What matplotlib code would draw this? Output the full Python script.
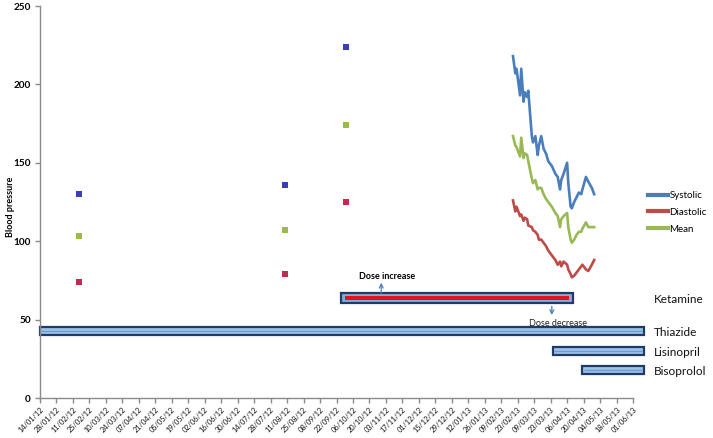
import matplotlib
matplotlib.use("Agg")
import matplotlib.pyplot as plt
import matplotlib.dates as mdates
import matplotlib.transforms as mtransforms
from matplotlib.lines import Line2D
import pandas as pd

plt.rcParams['font.family'] = ['Lato', 'DejaVu Sans']

# ---- data ----
clinic_dates = ['2012-02-16', '2012-08-09', '2012-09-30']
clinic_systolic = [130, 136, 224]
clinic_mean = [103, 107, 174]
clinic_diastolic = [74, 79, 125]

home_dates = ['2013-02-19', '2013-02-21', '2013-02-22', '2013-02-25', '2013-02-26',
              '2013-02-28', '2013-03-01', '2013-03-03', '2013-03-04', '2013-03-07',
              '2013-03-08', '2013-03-10', '2013-03-12', '2013-03-13', '2013-03-15',
              '2013-03-17', '2013-03-19', '2013-03-21', '2013-03-24', '2013-03-27',
              '2013-03-29', '2013-03-31', '2013-04-01', '2013-04-03', '2013-04-06',
              '2013-04-07', '2013-04-09', '2013-04-10', '2013-04-12', '2013-04-14',
              '2013-04-16', '2013-04-18', '2013-04-19', '2013-04-22', '2013-04-24',
              '2013-04-27', '2013-04-29']
systolic = [218, 207, 210, 193, 210, 189, 195, 192, 196, 167, 163, 167, 155, 161, 167,
            159, 156, 151, 148, 143, 141, 133, 139, 143, 150, 137, 122, 121, 125, 128,
            131, 130, 133, 141, 138, 134, 130]
mean = [167, 161, 160, 154, 166, 153, 156, 155, 151, 140, 137, 139, 133, 134, 134,
        130, 127, 125, 122, 118, 116, 109, 114, 116, 118, 109, 101, 99, 101, 104,
        106, 106, 108, 112, 109, 109, 109]
diastolic = [126, 119, 122, 116, 117, 113, 115, 114, 110, 109, 107, 106, 104, 101, 101,
             99, 97, 94, 91, 88, 85, 87, 84, 87, 85, 82, 79, 77, 78, 80,
             82, 84, 85, 82, 81, 85, 88]

drugs = ['Ketamine', 'Thiazide', 'Lisinopril', 'Bisoprolol']
drug_start = ['2012-09-26', '2012-01-14', '2013-03-25', '2013-04-19']
drug_end = ['2013-04-11', '2013-06-10', '2013-06-10', '2013-06-10']
drug_level = [63.6, 42.8, 30.1, 18.1]

tick_start = '2012-01-14'
tick_end = '2013-06-01'
y_ticks = [0, 50, 100, 150, 200, 250]

# ---- figure ----
W, H = 713, 438
fig = plt.figure(figsize=(W / 100, H / 100), dpi=100)
ax = fig.add_axes([40 / W, (H - 398) / H, 593 / W, (398 - 6) / H])

c_sys, c_dia, c_mean = '#4A7EBB', '#BE4B48', '#98B954'

hd = pd.to_datetime(home_dates)
ax.plot(hd, systolic, color=c_sys, lw=1.9, solid_joinstyle='round')
ax.plot(hd, diastolic, color=c_dia, lw=1.9, solid_joinstyle='round')
ax.plot(hd, mean, color=c_mean, lw=1.9, solid_joinstyle='round')

cd = pd.to_datetime(clinic_dates)
ax.scatter(cd, clinic_systolic, marker='s', s=22, color='#3A3FB8', zorder=3, linewidths=0)
ax.scatter(cd, clinic_mean, marker='s', s=22, color='#9BBB45', zorder=3, linewidths=0)
ax.scatter(cd, clinic_diastolic, marker='s', s=22, color='#BE2C50', zorder=3, linewidths=0)

# medication bars
ds = mdates.date2num(pd.to_datetime(drug_start))
de = mdates.date2num(pd.to_datetime(drug_end))
for i, name in enumerate(drugs):
    hgt = 6.2 if name == 'Ketamine' else 5.0
    ax.barh(drug_level[i], de[i] - ds[i], left=ds[i], height=hgt,
            color='#9CC2EA' if name != 'Ketamine' else '#8AAAD4',
            edgecolor='#1F3B66', linewidth=1.6, clip_on=False, zorder=2)
    if name == 'Ketamine':
        ax.barh(drug_level[i], de[i] - ds[i] - 6, left=ds[i] + 3, height=2.8,
                color='#E3121B', linewidth=0, clip_on=False, zorder=3)
    else:
        ax.plot([ds[i] + 1, de[i] - 1], [drug_level[i], drug_level[i]],
                color='#6E9BD2', lw=0.9, clip_on=False, zorder=3,
                solid_capstyle='butt')

trans = mtransforms.blended_transform_factory(ax.transAxes, ax.transData)
label_y = [63.1, 41.5, 29.3, 16.6]
for name, yy in zip(drugs, label_y):
    ax.text(1.035, yy, name, transform=trans, fontsize=8.5, va='center', ha='left',
            color='#111111')

# annotations
ax.text(pd.Timestamp('2012-11-04'), 77.6, 'Dose increase', fontsize=6.5,
        fontweight='bold', ha='center', va='center')
ax.annotate('', xy=(pd.Timestamp('2012-10-30'), 73.5),
            xytext=(pd.Timestamp('2012-10-30'), 66.8),
            arrowprops=dict(arrowstyle='->', color='#4A7EBB', lw=0.9,
                            shrinkA=0, shrinkB=0, mutation_scale=7))
ax.text(pd.Timestamp('2013-03-29'), 47.8, 'Dose decrease', fontsize=6.5,
        ha='center', va='center', color='#222222')
ax.annotate('', xy=(pd.Timestamp('2013-03-24'), 52.9),
            xytext=(pd.Timestamp('2013-03-24'), 58.5),
            arrowprops=dict(arrowstyle='->', color='#4A7EBB', lw=0.9,
                            shrinkA=0, shrinkB=0, mutation_scale=7))

# axes styling
ax.set_ylim(0, 250)
ax.set_yticks(y_ticks, labels=[str(v) for v in y_ticks], fontweight='bold',
              fontsize=7.2)
ax.set_xlim(pd.Timestamp(tick_start), pd.Timestamp(tick_end))
xt = pd.date_range(tick_start, tick_end, freq='14D')
ax.set_xticks(xt, labels=[d.strftime('%d/%m/%y') for d in xt], rotation=45,
              ha='right', rotation_mode='anchor', fontsize=5.3, color='#111111')
for s in ['top', 'right']:
    ax.spines[s].set_visible(False)
for s in ['left', 'bottom']:
    ax.spines[s].set_color('#8A8A8A')
    ax.spines[s].set_linewidth(1.0)
ax.tick_params(axis='both', direction='out', length=3.5, color='#8A8A8A', width=1.0)
ax.tick_params(axis='x', pad=2)
ax.tick_params(axis='y', pad=3)
ax.set_ylabel('Blood pressure', fontsize=6.5, fontweight='bold')
ax.yaxis.set_label_coords(-0.043, 0.487)

handles = [Line2D([], [], color=c_sys, lw=3), Line2D([], [], color=c_dia, lw=3),
           Line2D([], [], color=c_mean, lw=3)]
fig.legend(handles, ['Systolic', 'Diastolic', 'Mean'], loc='upper left',
           bbox_to_anchor=(648 / W, 1 - 191 / H), bbox_transform=fig.transFigure,
           frameon=False, fontsize=7, handlelength=2.1, handletextpad=0.1,
           labelspacing=0.8, borderpad=0, borderaxespad=0)

fig.savefig('out.png', dpi=100, facecolor='white')
